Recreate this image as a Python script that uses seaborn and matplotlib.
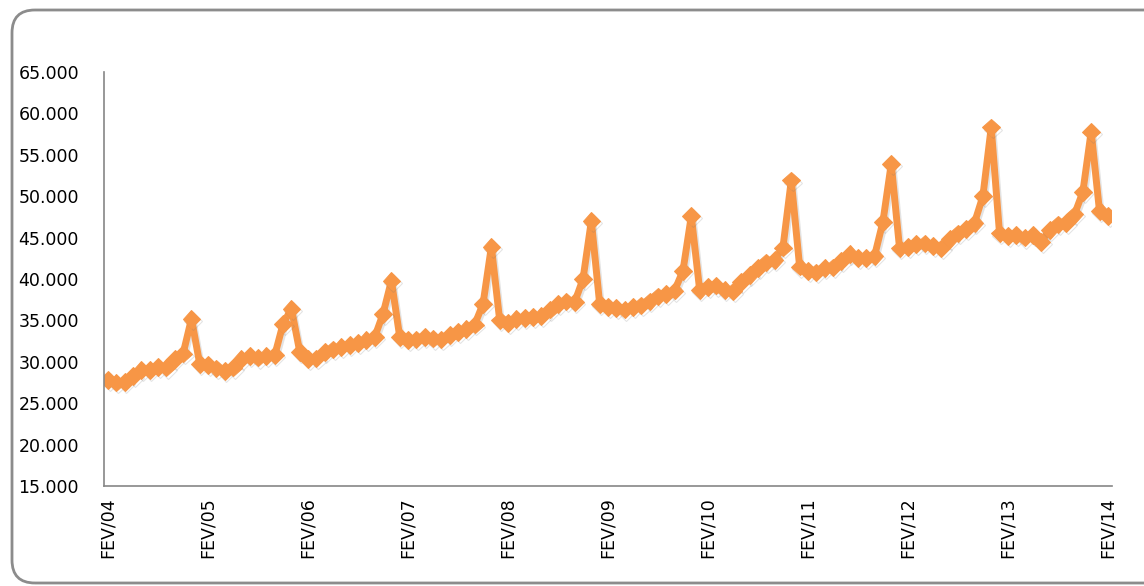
import numpy as np
import pandas as pd
import seaborn as sns
import matplotlib.pyplot as plt
import matplotlib.patheffects as pe
from matplotlib.patches import FancyBboxPatch
from matplotlib.ticker import FuncFormatter, FixedLocator

# valores mensais, fev/2004 a fev/2014
v2004 = [27800, 27500, 27600, 28300, 29000, 29000, 29400, 29300, 30300, 31000, 35200]
v2005 = [29700, 29600, 29200, 28900, 29300, 30300, 30700, 30500, 30700, 30800, 34600, 36400]
v2006 = [31200, 30300, 30400, 31200, 31500, 31800, 32000, 32300, 32600, 33000, 35800, 39800]
v2007 = [33000, 32600, 32700, 33000, 32800, 32700, 33200, 33600, 34000, 34500, 37000, 43900]
v2008 = [35000, 34700, 35200, 35300, 35400, 35500, 36300, 37000, 37300, 37200, 40000, 47000]
v2009 = [37000, 36600, 36500, 36300, 36600, 36800, 37300, 37900, 38200, 38600, 41000, 47600]
v2010 = [38700, 39000, 39200, 38700, 38500, 39600, 40500, 41300, 42000, 42300, 43800, 51900]
v2011 = [41500, 41000, 40800, 41300, 41400, 42200, 43000, 42500, 42500, 42800, 46900, 53900]
v2012 = [43700, 43900, 44200, 44300, 44000, 43700, 44800, 45500, 46000, 46800, 50000, 58300]
v2013 = [45500, 45200, 45300, 45000, 45300, 44500, 45900, 46600, 46800, 47800, 50500, 57800]
v2014 = [48200, 47600]

valores = v2004 + v2005 + v2006 + v2007 + v2008 + v2009 + v2010 + v2011 + v2012 + v2013 + v2014
rotulos_ano = ["FEV/04", "FEV/05", "FEV/06", "FEV/07", "FEV/08", "FEV/09",
               "FEV/10", "FEV/11", "FEV/12", "FEV/13", "FEV/14"]
yticks = [15000, 20000, 25000, 30000, 35000, 40000, 45000, 50000, 55000, 60000, 65000]

df = pd.DataFrame({"mes": np.arange(len(valores)), "valor": valores})

sns.set_style("white")
plt.rcParams['font.family'] = ['DejaVu Sans']

fig = plt.figure(figsize=(11.44, 5.86), dpi=100)
ax = fig.add_axes([104 / 1144, 1 - 486 / 586, (1112 - 104) / 1144, (486 - 72) / 586])

# moldura arredondada
moldura = FancyBboxPatch((12 / 1144, 3 / 586), 1.2, (576 - 3) / 586,
                         boxstyle="round,pad=0,rounding_size=0.02",
                         transform=fig.transFigure, facecolor='none',
                         edgecolor='#8c8c8c', linewidth=2, clip_on=False,
                         mutation_aspect=1144 / 586)
fig.patches.append(moldura)

cor = '#F79646'
sns.lineplot(data=df, x="mes", y="valor", ax=ax, color=cor, linewidth=5,
             marker='D', markersize=9, markeredgecolor=cor, markerfacecolor=cor)
ax.lines[0].set_path_effects([
    pe.SimpleLineShadow(offset=(1.2, -1.5), shadow_color='#777777', alpha=0.2),
    pe.Normal()])

ax.set_xlim(-0.5, len(valores) - 0.5)
ax.set_ylim(15000, 65000)
ax.set_yticks(yticks)
ax.yaxis.set_major_formatter(FuncFormatter(lambda v, p: f"{int(v):,}".replace(",", ".")))

ax.set_xticks(np.arange(0, len(valores), 12))
ax.set_xticklabels(rotulos_ano, rotation=90)
ax.xaxis.set_minor_locator(FixedLocator(np.arange(-0.5, len(valores), 1)))
ax.tick_params(axis='x', which='major', length=0, pad=8, labelsize=12.5, labelcolor='black')
ax.tick_params(axis='x', which='minor', length=5, width=1, color='#868686', direction='out')
ax.tick_params(axis='y', length=6, width=1, color='#868686', direction='out',
               labelsize=12.5, labelcolor='black', pad=12)

ax.set_xlabel("")
ax.set_ylabel("")
for lado in ['top', 'right']:
    ax.spines[lado].set_visible(False)
for lado in ['left', 'bottom']:
    ax.spines[lado].set_color('#868686')
    ax.spines[lado].set_linewidth(1.2)

fig.savefig("out.png", dpi=100)
